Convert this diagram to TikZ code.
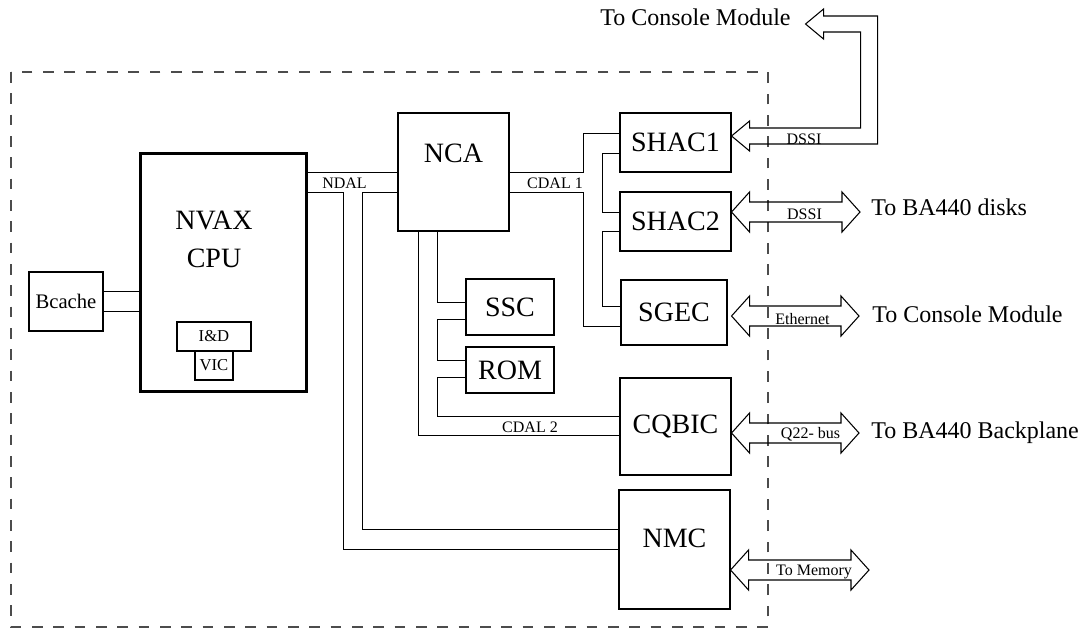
\documentclass[tikz,border=0pt]{standalone}
\usepackage{fontspec}
\setmainfont{Liberation Serif}
\usetikzlibrary{calc}

\tikzset{
  box/.style 2 args={draw, line width=0.8pt, inner sep=0pt,
    minimum width=#1*0.75pt, minimum height=#2*0.75pt,
    font=\fontsize{21}{25}\selectfont},
  inbox/.style 2 args={box={#1}{#2}, line width=1.5pt, font=\fontsize{12.5}{14}\selectfont},
  boxtext/.style={inner sep=0pt, font=\fontsize{21}{28.5}\selectfont},
  lbl/.style={inner sep=0pt, font=\fontsize{12}{14}\selectfont},
  ext/.style={inner sep=0pt, font=\fontsize{18}{21}\selectfont},
  bus/.style={draw, line width=0.8pt, line join=miter},
  frame/.style={draw=black!70, line width=0.9pt, dash pattern=on 8pt off 8pt}
}
\newcommand{\busarrow}[2]{\draw[bus] (#1) -- ++(18,-20) -- ++(0,10) -- ($(#2)+(-18,-10)$) -- ++(0,-10) -- (#2)
  -- ++(-18,20) -- ++(0,-10) -- ($(#1)+(18,10)$) -- ++(0,10) -- cycle;}

\begin{document}
\begin{tikzpicture}[x=0.75pt, y=-0.75pt]
\useasboundingbox (0,0) rectangle (1088,629);
\draw[frame] (11,72) rectangle (768,627);

\node[box={74}{59}, font=\fontsize{15.5}{18}\selectfont] (bcache) at (66,301.5) {Bcache};
\node[box={166}{238}, line width=2.25pt,
  label={[boxtext, align=center, xshift=-6.75pt, yshift=24.75pt]center:{NVAX\\CPU}}] (cpu) at (223,272) {};
\node[inbox={74}{29}] (idcache) at (214,336.5) {I\&D};
\node[inbox={38}{29}] (vic) at (214,365.5) {VIC};
\node[box={111}{118}, label={[boxtext, yshift=14.25pt]center:NCA}] (nca) at (453.5,172) {};
\node[box={111}{59}] (shaca) at (675.5,142.5) {SHAC1};
\node[box={111}{59}] (shacb) at (675.5,221.5) {SHAC2};
\node[box={106}{65}] (sgec) at (674,312.5) {SGEC};
\node[box={88}{56}] (ssc) at (510,307) {SSC};
\node[box={88}{46}] (rom) at (510,370) {ROM};
\node[box={111}{97}] (cqbic) at (675.5,426.5) {CQBIC};
\node[box={111}{119}, label={[boxtext, yshift=8.6pt]center:NMC}] (nmc) at (674.5,549.5) {};

\draw (bcache.east |- 0,291) -- (cpu.west |- 0,291);
\draw (bcache.east |- 0,311) -- (cpu.west |- 0,311);
\draw (cpu.east |- 0,172) -- (nca.west |- 0,172);
\draw (cpu.east |- 0,192) -| (343,549) -- (nmc.west |- 0,549);
\draw (nca.west |- 0,192) -| (362,529) -- (nmc.west |- 0,529);
\draw (nca.east |- 0,172) -| (583,133) -- (shaca.west |- 0,133);
\draw (nca.east |- 0,192) -| (583,326) -- (sgec.west |- 0,326);
\draw (shaca.west |- 0,153) -| (602,212) -- (shacb.west |- 0,212);
\draw (shacb.west |- 0,231) -| (602,306) -- (sgec.west |- 0,306);
\draw (nca.south -| 418,0) |- (cqbic.west |- 0,435);
\draw (nca.south -| 437,0) |- (ssc.west |- 0,302);
\draw (ssc.west |- 0,319) -| (437,360) -- (rom.west |- 0,360);
\draw (rom.west |- 0,377) -| (437,416) -- (cqbic.west |- 0,416);

\node[lbl, anchor=base] (ndal) at (344.5,188.3) {NDAL};
\node[lbl, anchor=base] (cdala) at (555,188.3) {CDAL 1};
\node[lbl, anchor=base] (cdalb) at (530,432.7) {CDAL 2};

\node[ext, anchor=base west] (contop) at (600,25) {To Console Module};
\node[ext, anchor=base west] (disks) at (871,215) {To BA440 disks};
\node[ext, anchor=base west] (conside) at (872,322.3) {To Console Module};
\node[ext, anchor=base west] (backplane) at (871,438.3) {To BA440 Backplane};

\coordinate (dssiA) at (shaca.east |- 0,136);
\coordinate (dssiL) at (shacb.east |- 0,212);
\coordinate (dssiR) at (860,212);
\coordinate (ethL) at ($(sgec.east |- 0,316)+(4,0)$);
\coordinate (ethR) at (859,316);
\coordinate (qbusL) at (cqbic.east |- 0,433);
\coordinate (qbusR) at (859,433);
\coordinate (memL) at (nmc.east |- 0,570);
\coordinate (memR) at (869,570);

\draw[bus] (dssiA) -- ++(18,-15) -- ++(0,7) -- ++(111,0) -- ++(0,-96) -- ++(-37,0) -- ++(0,7) -- ++(-18,-15)
  -- ++(18,-15) -- ++(0,7) -- ++(54,0) -- ++(0,128) -- ++(-128,0) -- ++(0,7) -- cycle;
\busarrow{dssiL}{dssiR}
\busarrow{ethL}{ethR}
\busarrow{qbusL}{qbusR}
\busarrow{memL}{memR}

\node[lbl, anchor=base] (dssia) at (804,144.3) {DSSI};
\node[lbl, anchor=base] (dssib) at (804.5,219) {DSSI};
\node[lbl, anchor=base] (eth) at (802.5,324.3) {Ethernet};
\node[lbl, anchor=base] (qbus) at (810.5,438.3) {Q22- bus};
\node[lbl, anchor=base] (mem) at (814,575) {To Memory};
\end{tikzpicture}
\end{document}
